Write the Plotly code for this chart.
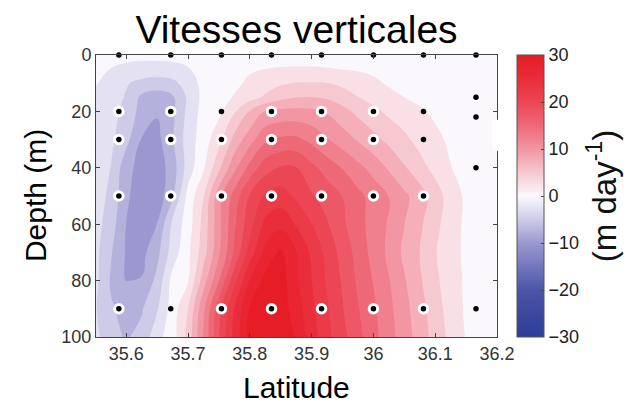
import plotly.graph_objects as go

# ---------------- data ----------------
latitudes = [35.55, 35.575, 35.6, 35.625, 35.65, 35.675, 35.7, 35.725, 35.75, 35.775,
             35.8, 35.825, 35.85, 35.875, 35.9, 35.925, 35.95, 35.975, 36.0, 36.025,
             36.05, 36.075, 36.1, 36.125, 36.15, 36.175, 36.2]
depths = [0, 5, 10, 15, 20, 30, 40, 50, 60, 70, 80, 90, 100]

w_d0 = [-0.3, -0.5, -0.6, -0.7, -0.7, -0.6, -0.5, -0.2, 0.0, 0.1, 0.2, 0.3, 0.4, 0.4, 0.4, 0.4, 0.4, 0.3, 0.3, 0.2, 0.2, 0.2, 0.2, 0.2, 0.2, 0.2, 0.2]
w_d5 = [-0.7, -1.3, -1.8, -2.0, -2.0, -1.9, -1.4, -0.3, 0.0, 0.4, 0.9, 1.25, 1.4, 1.45, 1.45, 1.35, 1.2, 1.0, 0.8, 0.6, 0.5, 0.5, 0.5, 0.5, 0.5, 0.5, 0.5]
w_d10 = [-1.1, -2.0, -3.5, -4.5, -5.0, -4.5, -2.5, -0.5, 0.0, 0.6, 1.8, 2.7, 3.4, 3.85, 3.9, 3.8, 3.2, 2.5, 1.7, 1.0, 0.7, 0.5, 0.5, 0.5, 0.5, 0.5, 0.5]
w_d15 = [-1.6, -2.5, -4.0, -6.8, -7.4, -6.6, -3.3, -0.5, 0.0, 1.5, 2.8, 4.1, 5.5, 6.2, 6.3, 5.9, 4.9, 3.8, 2.8, 1.9, 1.25, 0.8, 0.6, 0.5, 0.5, 0.5, 0.5]
w_d20 = [-2.0, -2.8, -4.5, -7.2, -8.5, -6.8, -3.0, -0.3, 0.6, 3.5, 6.4, 8.9, 9.4, 9.5, 9.3, 8.5, 7.1, 5.6, 4.4, 3.2, 2.4, 1.5, 0.9, 0.6, 0.5, 0.5, 0.5]
w_d30 = [-2.5, -3.2, -5.5, -8.9, -9.5, -6.5, -2.5, 0.0, 2.9, 7.0, 10.2, 13.2, 14.2, 14.3, 13.1, 11.4, 10.0, 8.5, 7.0, 5.6, 4.3, 2.9, 1.7, 0.9, 0.6, 0.5, 0.5]
w_d40 = [-2.3, -3.8, -7.8, -9.8, -10.2, -7.5, -2.5, 0.9, 5.7, 10.6, 14.6, 17.7, 19.0, 18.8, 16.9, 15.2, 13.6, 12.0, 10.3, 8.4, 6.5, 4.7, 2.9, 1.3, 0.7, 0.5, 0.5]
w_d50 = [-2.6, -4.3, -8.2, -10.5, -10.5, -6.5, -0.4, 3.6, 10.3, 14.8, 19.0, 21.6, 22.4, 20.8, 19.0, 17.7, 16.2, 14.4, 12.8, 11.3, 9.3, 7.4, 5.0, 2.5, 0.8, 0.5, 0.5]
w_d60 = [-2.8, -5.0, -8.8, -10.0, -8.7, -3.2, 0.0, 4.6, 10.5, 15.8, 20.4, 24.5, 25.5, 23.5, 21.3, 19.0, 16.7, 14.7, 12.7, 11.0, 8.8, 6.7, 4.5, 2.3, 0.8, 0.5, 0.5]
w_d70 = [-3.0, -6.0, -9.0, -9.5, -7.0, -2.5, 0.7, 5.1, 10.9, 16.6, 22.4, 27.0, 29.2, 26.3, 23.2, 20.4, 17.8, 15.3, 12.9, 10.7, 8.2, 6.2, 3.95, 1.9, 0.9, 0.6, 0.5]
w_d80 = [-3.0, -6.5, -8.8, -8.6, -5.5, -0.4, 1.1, 7.6, 13.7, 20.5, 26.4, 29.5, 30.0, 26.7, 23.8, 20.9, 18.4, 15.8, 13.6, 11.4, 9.0, 6.6, 4.3, 2.3, 0.9, 0.6, 0.5]
w_d90 = [-3.5, -6.0, -7.0, -6.5, -4.0, 0.0, 3.75, 10.7, 17.9, 23.8, 29.0, 30.0, 30.0, 27.5, 24.3, 21.5, 18.9, 16.4, 14.2, 11.9, 9.6, 7.2, 4.9, 2.6, 0.9, 0.6, 0.5]
w_d100 = [-3.0, -5.5, -6.5, -5.5, -2.0, 0.0, 4.5, 11.5, 18.5, 24.5, 29.5, 30.5, 30.5, 28.5, 25.0, 22.0, 19.5, 17.0, 14.5, 12.2, 10.0, 7.6, 5.3, 3.0, 1.1, 0.6, 0.5]

velocity = [w_d0, w_d5, w_d10, w_d15, w_d20, w_d30, w_d40, w_d50, w_d60, w_d70, w_d80, w_d90, w_d100]

# sampling stations (dots)
ring_lat = [35.588, 35.672, 35.835, 35.916, 36.0,
            35.588, 35.672, 35.754, 35.835, 35.916, 36.0,
            35.588, 35.672, 35.754, 35.835, 35.916, 36.0, 36.081,
            35.588, 35.754, 35.835, 35.916, 36.0, 36.081]
ring_depth = [20, 20, 20, 20, 20,
              30, 30, 30, 30, 30, 30,
              50, 50, 50, 50, 50, 50, 50,
              90, 90, 90, 90, 90, 90]
plain_lat = [35.588, 35.672, 35.754, 35.835, 35.916, 36.0, 36.081, 36.166,
             35.754, 36.081, 36.081, 35.672, 36.166, 36.166, 36.166, 36.166]
plain_depth = [0, 0, 0, 0, 0, 0, 0, 0,
               20, 20, 30, 90, 90, 15, 22, 40]

x_ticks = [35.6, 35.7, 35.8, 35.9, 36.0, 36.1, 36.2]
x_ticktext = ["35.6", "35.7", "35.8", "35.9", "36", "36.1", "36.2"]
y_ticks = [0, 20, 40, 60, 80, 100]
cb_ticks = [-30, -20, -10, 0, 10, 20, 30]

colorscale = [
    [0.0, "rgb(45,60,150)"],
    [0.1667, "rgb(75,85,168)"],
    [0.3333, "rgb(155,152,208)"],
    [0.4167, "rgb(205,203,232)"],
    [0.5, "rgb(250,248,252)"],
    [0.5833, "rgb(246,200,208)"],
    [0.6667, "rgb(241,150,162)"],
    [0.75, "rgb(238,105,120)"],
    [0.8333, "rgb(236,70,85)"],
    [0.9167, "rgb(233,45,58)"],
    [1.0, "rgb(230,28,38)"],
]

FONT = "Liberation Sans, Arial, sans-serif"

fig = go.Figure()

fig.add_trace(go.Contour(
    x=latitudes, y=depths, z=velocity,
    colorscale=colorscale,
    contours=dict(start=-28.75, end=28.75, size=2.5, coloring="fill", showlines=False),
    line=dict(width=0, smoothing=1.3),
    showscale=False,
    hoverinfo="skip",
))

# continuous colorbar
fig.add_trace(go.Scatter(
    x=[None], y=[None], mode="markers",
    marker=dict(
        colorscale=colorscale, cmin=-30, cmax=30, color=[0], showscale=True,
        colorbar=dict(
            thickness=27, len=1, lenmode="fraction", y=0.5, yanchor="middle",
            x=1.0488, xanchor="left", xpad=0, ypad=0,
            outlinewidth=1, outlinecolor="#555",
            tickvals=cb_ticks, ticks="inside", ticklen=3, tickcolor="#444",
            tickfont=dict(family=FONT, size=18, color="#222"),
            title=dict(text="(m day<sup>-1</sup>)", side="right",
                       font=dict(family=FONT, size=33, color="#111")),
        ),
    ),
    showlegend=False, hoverinfo="skip",
))

fig.add_trace(go.Scatter(
    x=ring_lat, y=ring_depth, mode="markers",
    marker=dict(size=8.5, color="black", line=dict(color="white", width=3)),
    showlegend=False, cliponaxis=False, hoverinfo="skip",
))
fig.add_trace(go.Scatter(
    x=plain_lat, y=plain_depth, mode="markers",
    marker=dict(size=5.5, color="black"),
    showlegend=False, cliponaxis=False, hoverinfo="skip",
))

axis_common = dict(
    showline=True, linecolor="#444", linewidth=1, mirror="ticks",
    ticks="inside", ticklen=4, tickcolor="#444",
    showgrid=False, zeroline=False,
    tickfont=dict(family=FONT, size=18, color="#333"),
)

fig.update_layout(
    width=635, height=404,
    margin=dict(l=96, r=118.5, t=55, b=67),
    paper_bgcolor="white", plot_bgcolor="white",
    title=dict(text="Vitesses verticales", x=0.5, xref="paper", xanchor="center",
               y=1 - 29 / 404, yref="container", yanchor="middle",
               font=dict(family=FONT, size=39, color="black")),
    xaxis=dict(range=[35.551, 36.2], tickvals=x_ticks, ticktext=x_ticktext, **axis_common),
    yaxis=dict(range=[100, 0], tickvals=y_ticks, **axis_common),
    annotations=[
        dict(text="Depth (m)", x=-0.152, y=0.5, xref="paper", yref="paper",
             textangle=-90, showarrow=False, xanchor="center", yanchor="middle",
             font=dict(family=FONT, size=30, color="black")),
        dict(text="Latitude", x=0.5, y=-0.178, xref="paper", yref="paper",
             showarrow=False, xanchor="center", yanchor="middle",
             font=dict(family=FONT, size=30, color="black")),
    ],
    shapes=[
        dict(type="rect", xref="paper", yref="y", x0=0.9893, x1=1.0107, y0=23, y1=34,
             fillcolor="white", line=dict(width=0), layer="above"),
    ],
)

fig.write_html("out.html")
